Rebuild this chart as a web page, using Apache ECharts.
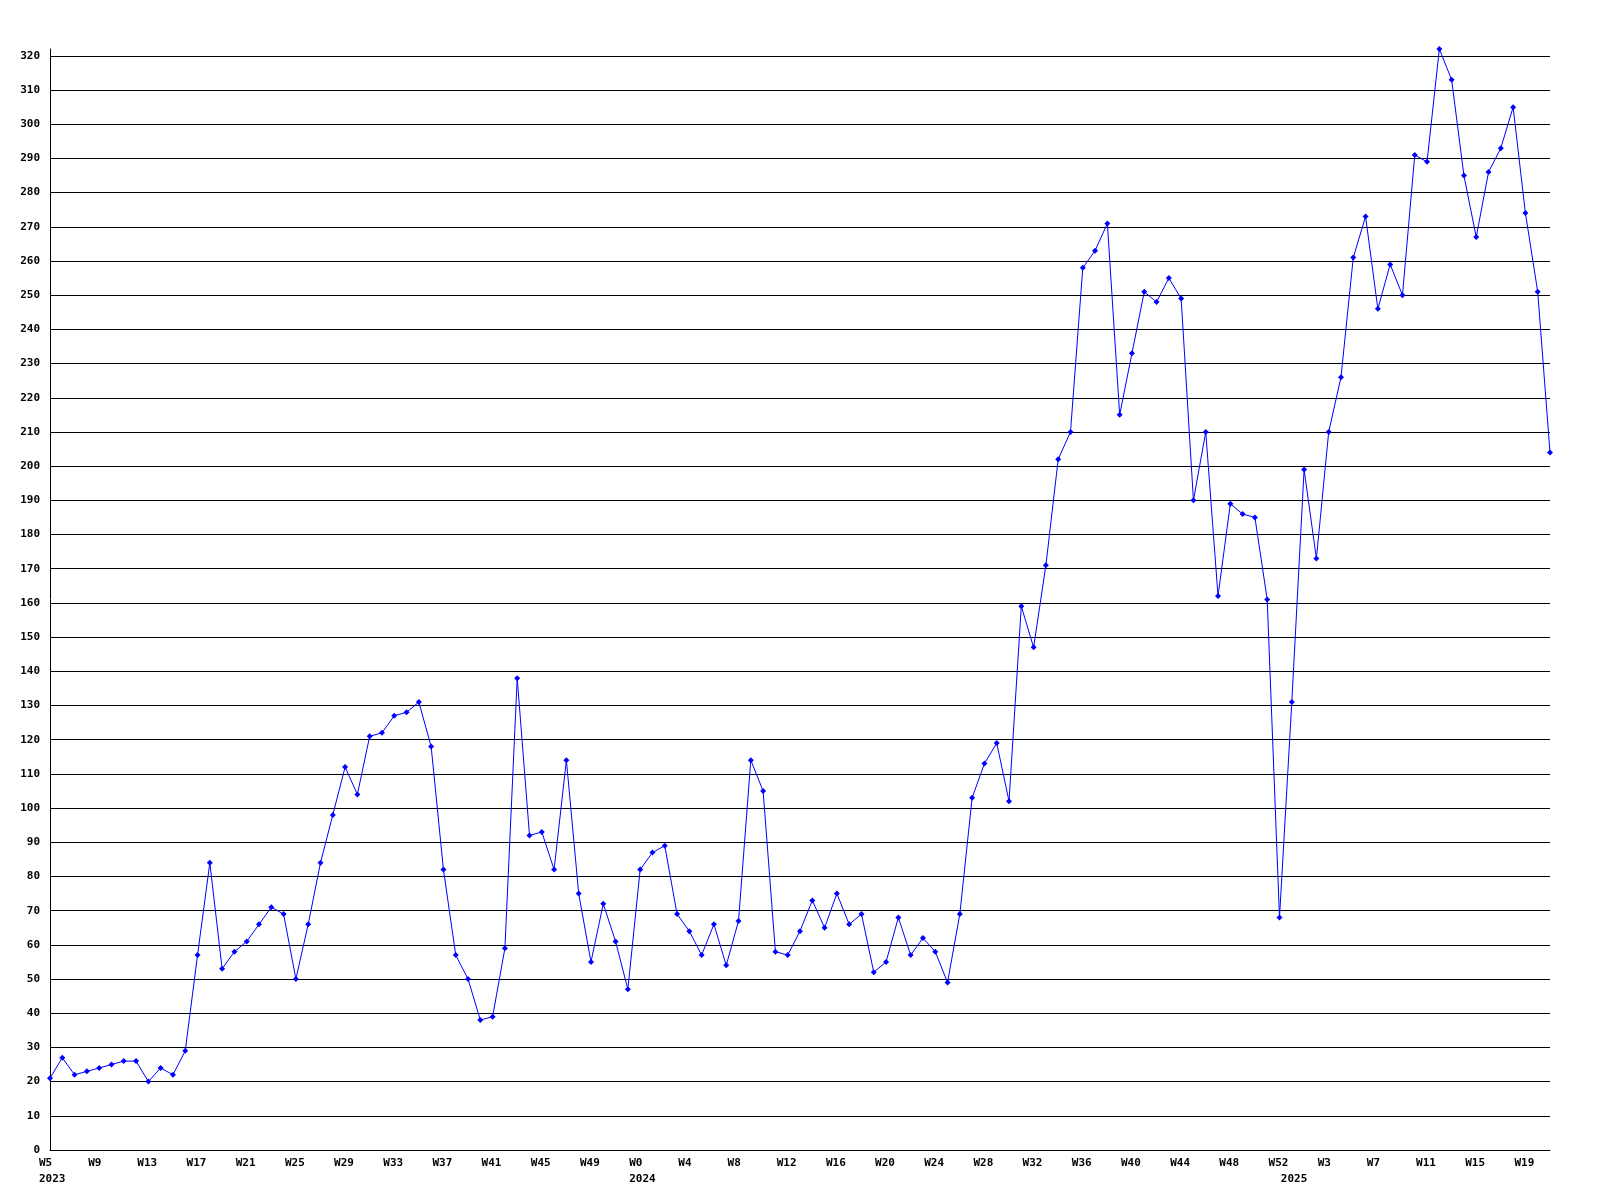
<!DOCTYPE html>
<html>
<head>
<meta charset="utf-8">
<script src="https://cdn.jsdelivr.net/npm/echarts@6/dist/echarts.min.js"></script>
<style>
html,body{margin:0;padding:0;background:#fff;}
#chart{width:1600px;height:1200px;}
</style>
</head>
<body>
<div id="chart"></div>
<script>
// Weekly values
const values2023 = [21,27,22,23,24,25,26,26,20,24,22,29,57,84,53,58,61,66,71,69,50,66,84,98,112,104,121,122,127,128,131,118,82,57,50,38,39,59,138,92,93,82,114,75,55,72,61,47]; // W5..W52
const values2024 = [82,87,89,69,64,57,66,54,67,114,105,58,57,64,73,65,75,66,69,52,55,68,57,62,58,49,69,103,113,119,102,159,147,171,202,210,258,263,271,215,233,251,248,255,249,190,210,162,189,186,185,161,68]; // W0..W52
const values2025 = [131,199,173,210,226,261,273,246,259,250,291,289,322,313,285,267,286,293,305,274,251,204]; // W0..W21

const years = [2023, 2024, 2025];
const firstWeek = [5, 0, 0];
const yearValues = [values2023, values2024, values2025];

const yTickValues = [0,10,20,30,40,50,60,70,80,90,100,110,120,130,140,150,160,170,180,190,200,210,220,230,240,250,260,270,280,290,300,310,320];
const yMax = 322;
const labelEvery = 4;

const categories = [];
const weekLabels = [];
const yearLabels = [];
const values = [];
years.forEach((y, k) => {
  yearValues[k].forEach((v, j) => {
    const w = firstWeek[k] + j;
    categories.push(y + '-W' + w);
    weekLabels.push('W' + w);
    yearLabels.push(j === 0 ? String(y) : '');
    values.push(v);
  });
});

const chart = echarts.init(document.getElementById('chart'), null, {renderer: 'canvas'});
const font = {fontFamily: 'DejaVu Sans Mono', fontWeight: 'bold', fontSize: 11, color: '#000'};
const splitColors = yTickValues.map(() => '#000').concat(['rgba(0,0,0,0)']);

chart.setOption({
  backgroundColor: '#fff',
  animation: false,
  grid: {left: 50, right: 50, top: 49, bottom: 50, containLabel: false},
  xAxis: {
    type: 'category',
    data: categories,
    boundaryGap: false,
    axisLine: {show: true, lineStyle: {color: '#000', width: 1}},
    axisTick: {show: false},
    splitLine: {show: false},
    axisLabel: Object.assign({}, font, {
      interval: (i) => (i % labelEvery === 0) || yearLabels[i] !== '',
      formatter: (val, i) => {
        const wk = (i % labelEvery === 0) ? weekLabels[i] : '';
        return yearLabels[i] ? (wk + '\n' + yearLabels[i]) : wk;
      },
      align: 'left',
      verticalAlign: 'top',
      lineHeight: 16,
      margin: 5,
      padding: [0, 0, 0, -11]
    })
  },
  yAxis: {
    type: 'value',
    min: 0,
    max: yMax,
    interval: 10,
    axisLine: {show: true, lineStyle: {color: '#000', width: 1}},
    axisTick: {show: false},
    splitLine: {show: true, lineStyle: {color: splitColors, width: 1}},
    axisLabel: Object.assign({}, font, {margin: 10, showMaxLabel: false})
  },
  series: [{
    type: 'line',
    data: values,
    symbol: 'diamond',
    symbolSize: 6,
    showAllSymbol: true,
    clip: false,
    itemStyle: {color: '#0000ff'},
    lineStyle: {color: '#0000ff', width: 1}
  }]
});
</script>
</body>
</html>
